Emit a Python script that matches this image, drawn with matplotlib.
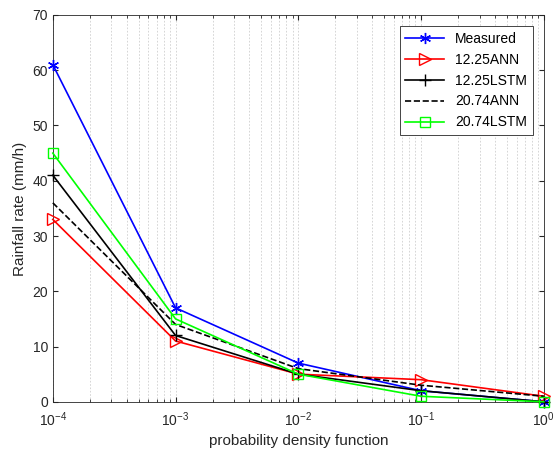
import matplotlib.pyplot as plt

plt.rcParams["font.family"] = ["Liberation Sans", "DejaVu Sans"]

x = [1e-4, 1e-3, 1e-2, 1e-1, 1e0]
measured = [61, 17, 7, 2, 0]
ann_1225 = [33, 11, 5, 4, 1]
lstm_1225 = [41, 12, 5, 2, 0]
ann_2074 = [36, 14, 6, 3, 1]
lstm_2074 = [45, 15, 5, 1, 0]

fig = plt.figure(figsize=(5.56, 4.54), dpi=100)
ax = fig.add_axes([0.095, 0.115, 0.883, 0.852])

# asterisk marker like MATLAB's '*'
ax.plot(x, measured, color="blue", marker=(6, 2, 0), markersize=8, lw=1.2,
        label="Measured", clip_on=False, zorder=3)
ax.plot(x, ann_1225, color="red", marker=">", markersize=9, mfc="none", lw=1.2,
        label="12.25ANN", clip_on=False, zorder=3)
ax.plot(x, lstm_1225, color="black", marker="+", markersize=9, lw=1.2,
        label="12.25LSTM", clip_on=False, zorder=3)
ax.plot(x, ann_2074, color="black", ls="--", lw=1.2, label="20.74ANN", clip_on=False, zorder=3)
ax.plot(x, lstm_2074, color="#00ff00", marker="s", markersize=7, mfc="none", lw=1.2,
        label="20.74LSTM", clip_on=False, zorder=3)

ax.set_xscale("log")
ax.set_xlim(1e-4, 1)
ax.set_ylim(0, 70)
ax.set_yticks(range(0, 71, 10))
ax.grid(True, axis="x", which="both", ls=(0, (2, 2)), color="#cfcfcf", lw=0.6)
ax.tick_params(which="both", direction="in", top=True, right=True, labelsize=10, colors="#262626")
ax.tick_params(axis="x", which="major", pad=6)
for s in ax.spines.values():
    s.set_color("#262626")
    s.set_linewidth(0.6)

ax.set_xlabel("probability density function", fontsize=11, color="#262626")
ax.set_ylabel("Rainfall rate (mm/h)", fontsize=11, color="#262626")

leg = ax.legend(loc="upper right", fontsize=10, fancybox=False, framealpha=1, edgecolor="#262626",
                borderaxespad=0.8, handlelength=2.8)
leg.get_frame().set_linewidth(0.6)

fig.savefig("out.png", dpi=100)
